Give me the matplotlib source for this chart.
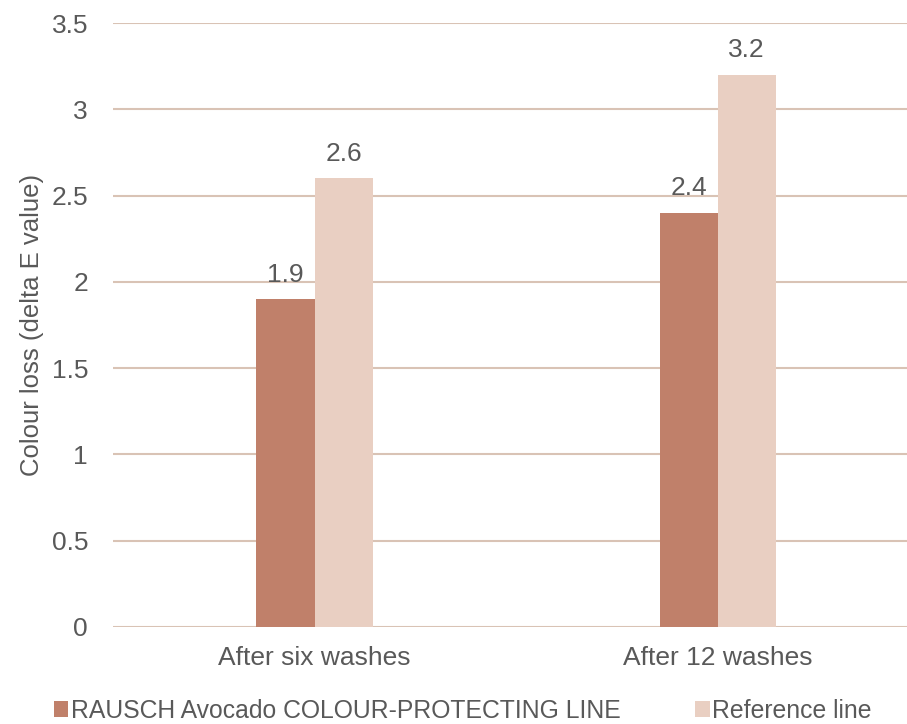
import numpy as np
import matplotlib
matplotlib.use('Agg')
import matplotlib.pyplot as plt

categories = ['After six washes', 'After 12 washes']
series_names = ['RAUSCH Avocado COLOUR-PROTECTING LINE', 'Reference line']
rausch = [1.9, 2.4]
reference = [2.6, 3.2]
colors = ['#C0806A', '#E9CFC2']

plt.rcParams['font.family'] = ['Liberation Sans', 'DejaVu Sans']
text_color = '#595959'

fig = plt.figure(figsize=(9.07, 7.24), dpi=100)
ax = fig.add_axes([0.1246, 0.134, 0.8754, 0.834])

x = np.arange(len(categories))
w = 0.144
b1 = ax.bar(x - w/2, rausch, w, color=colors[0], label=series_names[0], zorder=3)
b2 = ax.bar(x + w/2, reference, w, color=colors[1], label=series_names[1], zorder=3)
for bars in (b1, b2):
  ax.bar_label(bars, labels=[f'{v:g}' for v in bars.datavalues], padding=9,
               fontsize=19, color=text_color)

ax.set_ylim(0, 3.5)
ax.set_xlim(-0.5, 1.47)
ax.set_yticks(np.arange(0, 3.51, 0.5))
ax.set_yticklabels([f'{v:g}' for v in np.arange(0, 3.51, 0.5)])
ax.set_xticks(x)
ax.set_xticklabels(categories)
ax.tick_params(axis='both', length=0, labelsize=19, colors=text_color)
ax.tick_params(axis='y', pad=18)
ax.tick_params(axis='x', pad=14)
ax.grid(axis='y', color='#D9C3B5', linewidth=1.5, zorder=0)
for s in ax.spines.values():
  s.set_visible(False)
ax.set_ylabel('Colour loss (delta E value)', fontsize=18.5, color=text_color, labelpad=5)

fig.legend(loc='center', bbox_to_anchor=(0.51, 0.018), ncol=2, frameon=False,
           fontsize=17.8, labelcolor=text_color, handlelength=0.6, handleheight=0.6,
           handletextpad=0.1, columnspacing=3.0)

plt.savefig('out.png', dpi=100)
plt.close()
